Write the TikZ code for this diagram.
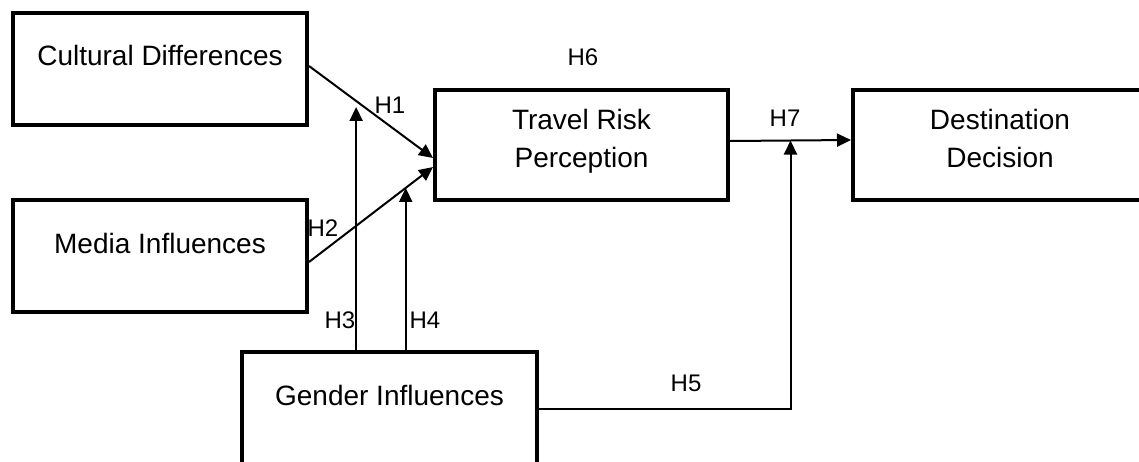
\documentclass[tikz,border=0pt]{standalone}
\usepackage{fontspec}
\setmainfont{Liberation Sans}
\usetikzlibrary{arrows.meta}

\begin{document}
\begin{tikzpicture}[x=0.5pt, y=-0.5pt,
        box/.style={draw, rectangle, line width=2pt, minimum width=147pt, minimum height=56pt},
        boxtext/.style={align=center, font=\fontsize{14}{19}\selectfont, inner sep=0pt},
        hyp/.style={font=\fontsize{12}{14}\selectfont, inner sep=0pt},
        link/.style={line width=1pt, -{Triangle[length=7pt, width=6.5pt]}}]
    \useasboundingbox (0,0) rectangle (1139,461);

    % boxes
    \node[box] (cult) at (160,69) {};
    \node[box] (media) at (160,256) {};
    \node[box, minimum width=146.5pt, minimum height=55pt] (risk) at (581.5,145) {};
    \node[box, minimum height=55pt] (dest) at (1000,145) {};
    \node[box, minimum width=147.5pt, minimum height=59pt] (gender) at (389.5,411) {};

    % box texts
    \node[boxtext] (cult-t) at ([yshift=-22pt]cult.north) {Cultural Differences};
    \node[boxtext] (media-t) at ([yshift=-22.5pt]media.north) {Media Influences};
    \node[boxtext] (risk-t) at ([yshift=-26.5pt]risk.north) {Travel Risk\\Perception};
    \node[boxtext] (dest-t) at ([yshift=-25pt]dest.north) {Destination\\Decision};
    \node[boxtext] (gender-t) at ([yshift=-22.5pt]gender.north) {Gender Influences};

    % paths
    \draw[link] ([yshift=1.5pt]cult.east) -- coordinate[pos=0.38] (m1) ([yshift=-6.5pt]risk.west);
    \draw[link] ([yshift=-3pt]media.east) -- coordinate[pos=0.78] (m2) ([yshift=-11pt]risk.west);
    \draw[link] ([yshift=2pt]risk.east) -- coordinate[pos=0.5] (m7) ([yshift=2.5pt]dest.west);
    \draw[link, shorten >=3pt] (m1 |- gender.north) -- (m1);
    \draw[link] (m2 |- gender.north) -- (m2);
    \draw[link] ([yshift=1pt]gender.east) -| (m7);

    % hypotheses
    \node[hyp] (h1) at (390,105) {H1};
    \node[hyp] (h2) at (323,228) {H2};
    \node[hyp] (h3) at (340,320) {H3};
    \node[hyp] (h4) at (425,320) {H4};
    \node[hyp] (h5) at (686,383) {H5};
    \node[hyp] (h6) at (583,57) {H6};
    \node[hyp] (h7) at (785,118) {H7};
\end{tikzpicture}
\end{document}
